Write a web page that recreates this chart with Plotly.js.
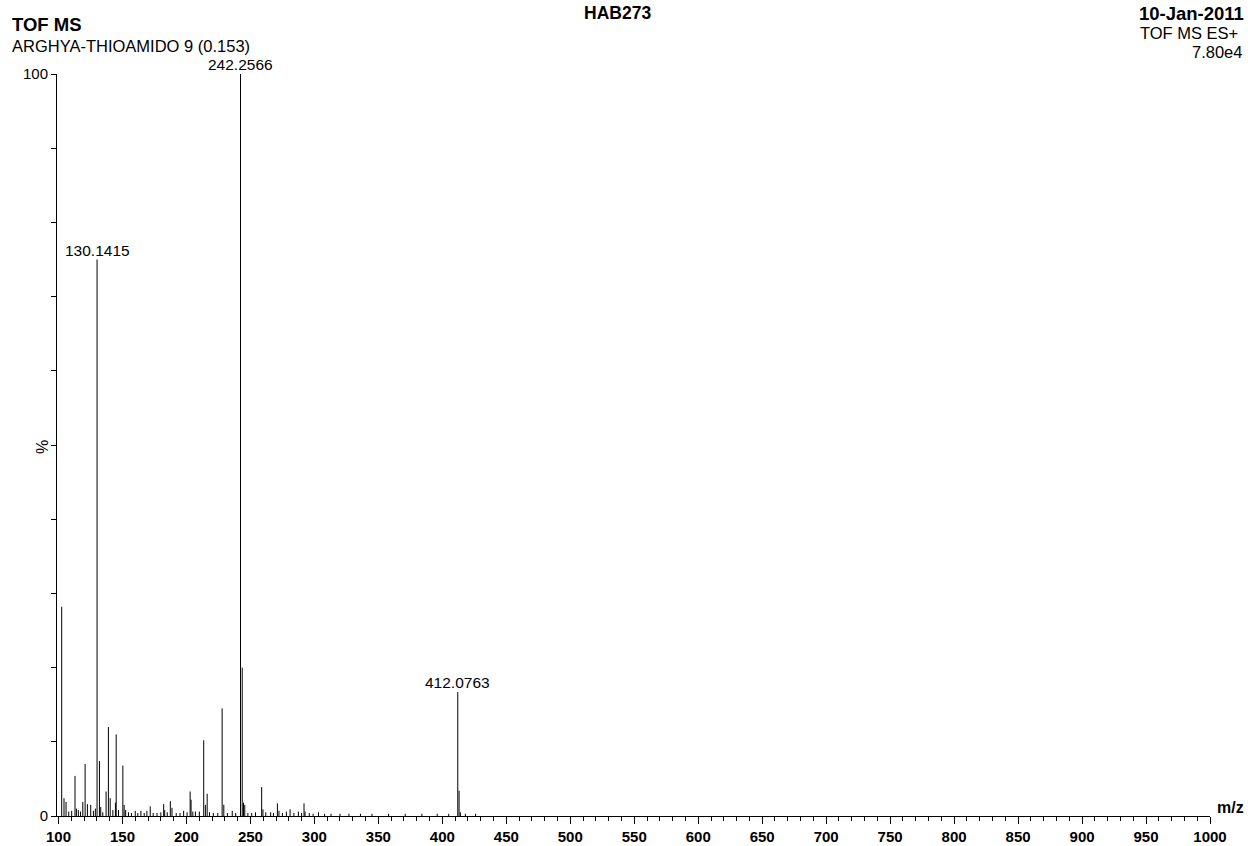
<!DOCTYPE html>
<html>
<head>
<meta charset="utf-8">
<script src="https://cdn.plot.ly/plotly-3.0.1.min.js"></script>
<style>
  html, body { margin: 0; padding: 0; background: #fff; }
  #chart { width: 1248px; height: 846px; }
</style>
</head>
<body>
<div id="chart"></div>
<script>
// TOF MS ES+ spectrum of HAB273 (ARGHYA-THIOAMIDO 9), relative intensity in %
const mzValues = [
  102.5, 104.3, 105.9, 108.0, 110.3, 112.9, 114.0, 115.5, 117.2, 119.0,
  120.8, 122.6, 125.2, 127.3, 128.8, 130.1415, 132.0, 133.0, 134.6, 137.2,
  139.0, 140.4, 142.5, 144.5, 145.1, 146.9, 150.3, 151.3, 152.5, 154.7,
  157.0, 160.0, 162.0, 164.4, 167.0, 169.1, 171.7, 174.0, 177.0, 180.0,
  182.2, 183.0, 185.0, 187.4, 188.7, 192.0, 195.0, 197.8, 200.5, 202.9,
  203.6, 205.0, 207.0, 210.1, 213.5, 214.8, 216.2, 218.0, 221.0, 224.5,
  227.9, 229.2, 232.0, 235.8, 238.5, 242.2566, 243.6, 244.6, 245.6, 248.0,
  251.0, 254.0, 258.8, 259.8, 262.0, 265.8, 268.0, 271.1, 272.3, 275.0,
  278.1, 281.0, 284.0, 287.5, 290.0, 291.9, 292.7, 296.0, 299.0, 303.2,
  308.0, 313.0, 320.0, 327.0, 336.0, 345.0, 358.0, 371.0, 384.0, 396.0,
  405.0, 412.0763, 413.1, 414.1, 418.0, 426.0
];
const intensityPct = [
  28.2, 2.4, 1.9, 0.6, 0.7, 5.4, 1.0, 0.8, 0.6, 1.9,
  7.0, 1.6, 1.5, 0.7, 1.0, 75.0, 7.4, 1.2, 0.5, 3.3,
  12.0, 2.4, 0.8, 1.8, 11.0, 0.8, 6.8, 1.5, 0.8, 0.5,
  0.4, 0.7, 0.4, 0.7, 0.4, 0.7, 1.3, 0.4, 0.4, 0.5,
  1.6, 0.8, 0.5, 2.0, 1.1, 0.4, 0.4, 0.7, 0.5, 3.3,
  2.2, 0.6, 0.6, 0.6, 10.2, 1.5, 3.0, 0.5, 0.4, 0.4,
  14.5, 1.5, 0.4, 0.7, 0.4, 100.0, 20.0, 1.8, 1.5, 0.4,
  0.4, 0.5, 3.9, 0.9, 0.5, 0.5, 0.4, 1.7, 0.7, 0.4,
  0.6, 0.9, 0.4, 0.6, 0.4, 1.7, 0.6, 0.4, 0.3, 0.5,
  0.3, 0.3, 0.3, 0.3, 0.3, 0.3, 0.3, 0.3, 0.3, 0.3,
  0.3, 16.7, 3.4, 0.5, 0.3, 0.3
];
// peaks annotated with their accurate mass
const labelledPeaks = [130.1415, 242.2566, 412.0763];

// header texts
const headerTitle = 'HAB273';
const headerMethod = 'TOF MS';
const headerSample = 'ARGHYA-THIOAMIDO 9 (0.153)';
const headerDate = '10-Jan-2011';
const headerMode = 'TOF MS ES+';
const headerScale = '7.80e4';

// axis ticks
const xTickStart = 100;
const xTickStep = 50;
const yTickValues = [0, 10, 20, 30, 40, 50, 60, 70, 80, 90, 100];
const yTickText = ['0', '', '', '', '', '', '', '', '', '', '100'];

// ---- build stick spectrum: one vertical segment per peak ----
const stickX = [], stickY = [];
mzValues.forEach((m, i) => {
  stickX.push(m, m, null);
  stickY.push(0, intensityPct[i], null);
});

const W = 1248, H = 846;
const M = { l: 57, r: 38, t: 74, b: 30 };
const plotW = W - M.l - M.r, plotH = H - M.t - M.b;
// convert page pixel positions to paper coordinates
const px = x => (x - M.l) / plotW;
const py = y => (H - M.b - y) / plotH;

const FONT = 'Liberation Sans, Arial, Helvetica, sans-serif';

const annotations = [];
labelledPeaks.forEach(m => {
  const idx = mzValues.indexOf(m);
  annotations.push({
    x: m, y: intensityPct[idx], xref: 'x', yref: 'y',
    text: m.toFixed(4), showarrow: false,
    xanchor: 'center', yanchor: 'bottom', yshift: 0, borderpad: 0,
    font: { family: FONT, size: 15.5, color: '#000' }
  });
});

function headerText(text, x, y, xanchor, size, bold, angle) {
  annotations.push({
    x: px(x), y: py(y), xref: 'paper', yref: 'paper',
    text: text, showarrow: false, xanchor: xanchor, yanchor: 'middle',
    textangle: angle || 0, borderpad: 0,
    font: { family: FONT, size: size, color: '#000', weight: bold ? 'bold' : 'normal' }
  });
}
headerText(headerMethod, 11, 24, 'left', 18.5, true);
headerText(headerSample, 11, 46, 'left', 16.5, false);
headerText(headerTitle, 617, 13, 'center', 17.5, true);
headerText(headerDate, 1245, 13, 'right', 18.5, true);
headerText(headerMode, 1239, 33, 'right', 16.5, false);
headerText(headerScale, 1243, 52, 'right', 16.5, false);
headerText('m/z', 1230, 807, 'center', 16, true);
headerText('%', 43, 447, 'center', 16, false, -90);

const trace = {
  type: 'scatter', mode: 'lines',
  x: stickX, y: stickY,
  line: { color: '#000', width: 1 },
  connectgaps: false, hoverinfo: 'skip', cliponaxis: false
};

const layout = {
  width: W, height: H,
  margin: { l: M.l, r: M.r, t: M.t, b: M.b, pad: 0 },
  paper_bgcolor: '#fff', plot_bgcolor: '#fff',
  showlegend: false, hovermode: false,
  xaxis: {
    range: [98.83, 1000],
    tickmode: 'linear', tick0: xTickStart, dtick: xTickStep,
    ticks: 'outside', ticklen: 7, tickwidth: 1, tickcolor: '#000',
    showline: true, linecolor: '#000', linewidth: 1,
    showgrid: false, zeroline: false, automargin: false,
    tickfont: { family: FONT, size: 15, color: '#000', weight: 'bold' },
    minor: { ticks: 'outside', ticklen: 4, tickwidth: 1, tickcolor: '#000', tick0: xTickStart, dtick: 10, showgrid: false }
  },
  yaxis: {
    range: [0, 100],
    tickmode: 'array', tickvals: yTickValues, ticktext: yTickText,
    ticks: 'outside', ticklen: 5, tickwidth: 1, tickcolor: '#000',
    showline: true, linecolor: '#000', linewidth: 1,
    showgrid: false, zeroline: false, automargin: false,
    tickfont: { family: FONT, size: 15, color: '#000' }
  },
  annotations: annotations
};

Plotly.newPlot('chart', [trace], layout, { displayModeBar: false, staticPlot: true });
</script>
</body>
</html>
